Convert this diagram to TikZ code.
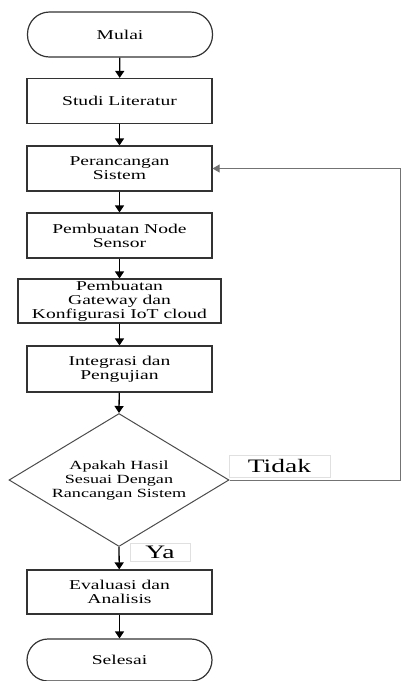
\documentclass[tikz,border=0pt]{standalone}
\usepackage{fontspec}
\setmainfont{Liberation Serif}[FakeStretch=1.45]
\usetikzlibrary{shapes.geometric,arrows.meta}

\begin{document}
\begin{tikzpicture}[x=1pt,y=-1pt,
  box/.style={draw=black!80, line width=1.2pt, rectangle, minimum width=185pt,
    minimum height=45pt, inner sep=1pt, align=center,
    font=\fontsize{13.5}{14}\selectfont},
  term/.style={box, rounded corners=22pt},
  decision/.style={draw=black!70, line width=1pt, diamond, minimum width=220pt,
    minimum height=133pt, inner sep=0pt},
  dectext/.style={align=center, inner sep=0pt, font=\fontsize{12.5}{14}\selectfont},
  tag/.style={draw=black!12, line width=0.8pt, fill=white, inner sep=0pt,
    font=\fontsize{19}{19}\selectfont},
  arr/.style={line width=1.3pt, -{Triangle[length=7pt,width=9pt]}},
  loop/.style={draw=black!55, line width=1pt, -{Triangle[length=7pt,width=8pt]}}
]
\useasboundingbox (0,0) rectangle (403,681);

% main column
\node[term] (start) at (120,34.5) {Mulai};
\node[box] (lit) at (119.5,101) {Studi Literatur};
\node[box] (design) at (119.5,168.5) {Perancangan\\Sistem};
\node[box] (sensor) at (119.5,235.5) {Pembuatan Node\\Sensor};
\node[box, minimum width=203pt, minimum height=44pt, inner sep=0pt] (gw) at (119.5,301)
  {Pembuatan\\Gateway dan\\Konfigurasi IoT cloud};
\node[box, minimum height=46pt] (integ) at (119.5,369) {Integrasi dan\\Pengujian};
\node[decision] (dec) at (119,480) {};
\node[dectext] (q) at (119,481) {Apakah Hasil\\Sesuai Dengan\\Rancangan Sistem};
\node[box, minimum height=44pt] (eval) at (119.5,592) {Evaluasi dan\\Analisis};
\node[term, minimum height=42pt, rounded corners=21pt] (end) at (119.5,660) {Selesai};

% flow arrows
\draw[arr] (start) -- (lit);
\draw[arr] (lit) -- (design);
\draw[arr] (design) -- (sensor);
\draw[arr] (sensor) -- (gw);
\draw[arr] (gw) -- (integ);
\draw[arr] (integ) -- (dec.north);
\draw[arr] (dec.south) -- (eval);
\draw[arr] (eval) -- (end);

% return path when the result does not match
\coordinate (turn) at (400,480);
\draw[loop] (dec.east) -- (turn) |- (design.east);

% branch labels
\node[tag, minimum width=101pt, minimum height=22pt] (no) at (279.5,466) {Tidak};
\node[tag, minimum width=60pt, minimum height=18pt] (yes) at (160,552) {Ya};
\end{tikzpicture}
\end{document}
